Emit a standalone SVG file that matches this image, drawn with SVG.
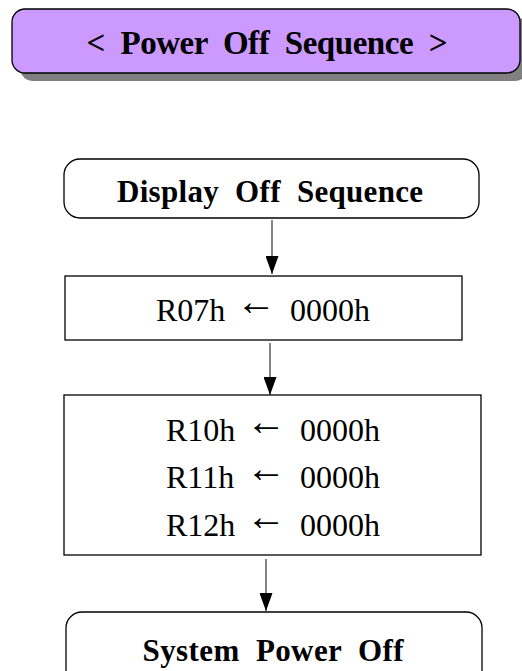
<svg xmlns="http://www.w3.org/2000/svg" width="522" height="671" viewBox="0 0 522 671">
<style>
.b{fill:#fff;stroke:#000;stroke-width:1.3}
.t{font-family:"Liberation Serif","Times New Roman",serif;fill:#000}
.h{font-weight:bold;text-anchor:middle}
.r{font-size:32px}
.ar{font-size:40px}
.c{stroke:#333;stroke-width:1.2;fill:none}
</style>
<defs>
<marker id="ah" viewBox="0 0 18 13" refX="18" refY="6.5" markerWidth="18" markerHeight="13" markerUnits="userSpaceOnUse" orient="auto">
<path d="M0,0 L18,6.5 L0,13 Z" fill="#000"/>
</marker>
</defs>
<g id="title">
<rect x="20" y="17" width="508" height="64" rx="13" fill="#808080"/>
<rect x="12" y="9" width="508" height="64" rx="13" fill="#cc99ff" stroke="#000" stroke-width="1.3"/>
<text class="t h" x="267" y="54" font-size="33" xml:space="preserve" textLength="361" lengthAdjust="spacing">&lt;  Power  Off  Sequence  &gt;</text>
</g>
<g id="display-off">
<rect class="b" x="64" y="159" width="415" height="59" rx="16"/>
<text class="t h" x="270" y="202" font-size="31" xml:space="preserve" textLength="306" lengthAdjust="spacing">Display  Off  Sequence</text>
</g>
<g id="r07">
<rect class="b" x="65" y="276" width="397" height="64"/>
<text class="t r" x="156" y="321">R07h</text>
<text class="t ar" x="236" y="315">←</text>
<text class="t r" x="290" y="321">0000h</text>
</g>
<g id="r10-12">
<rect class="b" x="64" y="395" width="417" height="160"/>
<text class="t r" x="166" y="441">R10h</text>
<text class="t ar" x="246" y="435">←</text>
<text class="t r" x="300" y="441">0000h</text>
<text class="t r" x="166" y="488">R11h</text>
<text class="t ar" x="246" y="482">←</text>
<text class="t r" x="300" y="488">0000h</text>
<text class="t r" x="166" y="536">R12h</text>
<text class="t ar" x="246" y="530">←</text>
<text class="t r" x="300" y="536">0000h</text>
</g>
<g id="power-off">
<rect class="b" x="66" y="612" width="416" height="74" rx="16"/>
<text class="t h" x="273" y="661" font-size="31" xml:space="preserve" textLength="261" lengthAdjust="spacing">System  Power  Off</text>
</g>
<g id="connectors">
<line class="c" x1="272" y1="220" x2="272" y2="274" marker-end="url(#ah)"/>
<line class="c" x1="270" y1="343" x2="270" y2="395" marker-end="url(#ah)"/>
<line class="c" x1="266" y1="559" x2="266" y2="611" marker-end="url(#ah)"/>
</g>
</svg>
